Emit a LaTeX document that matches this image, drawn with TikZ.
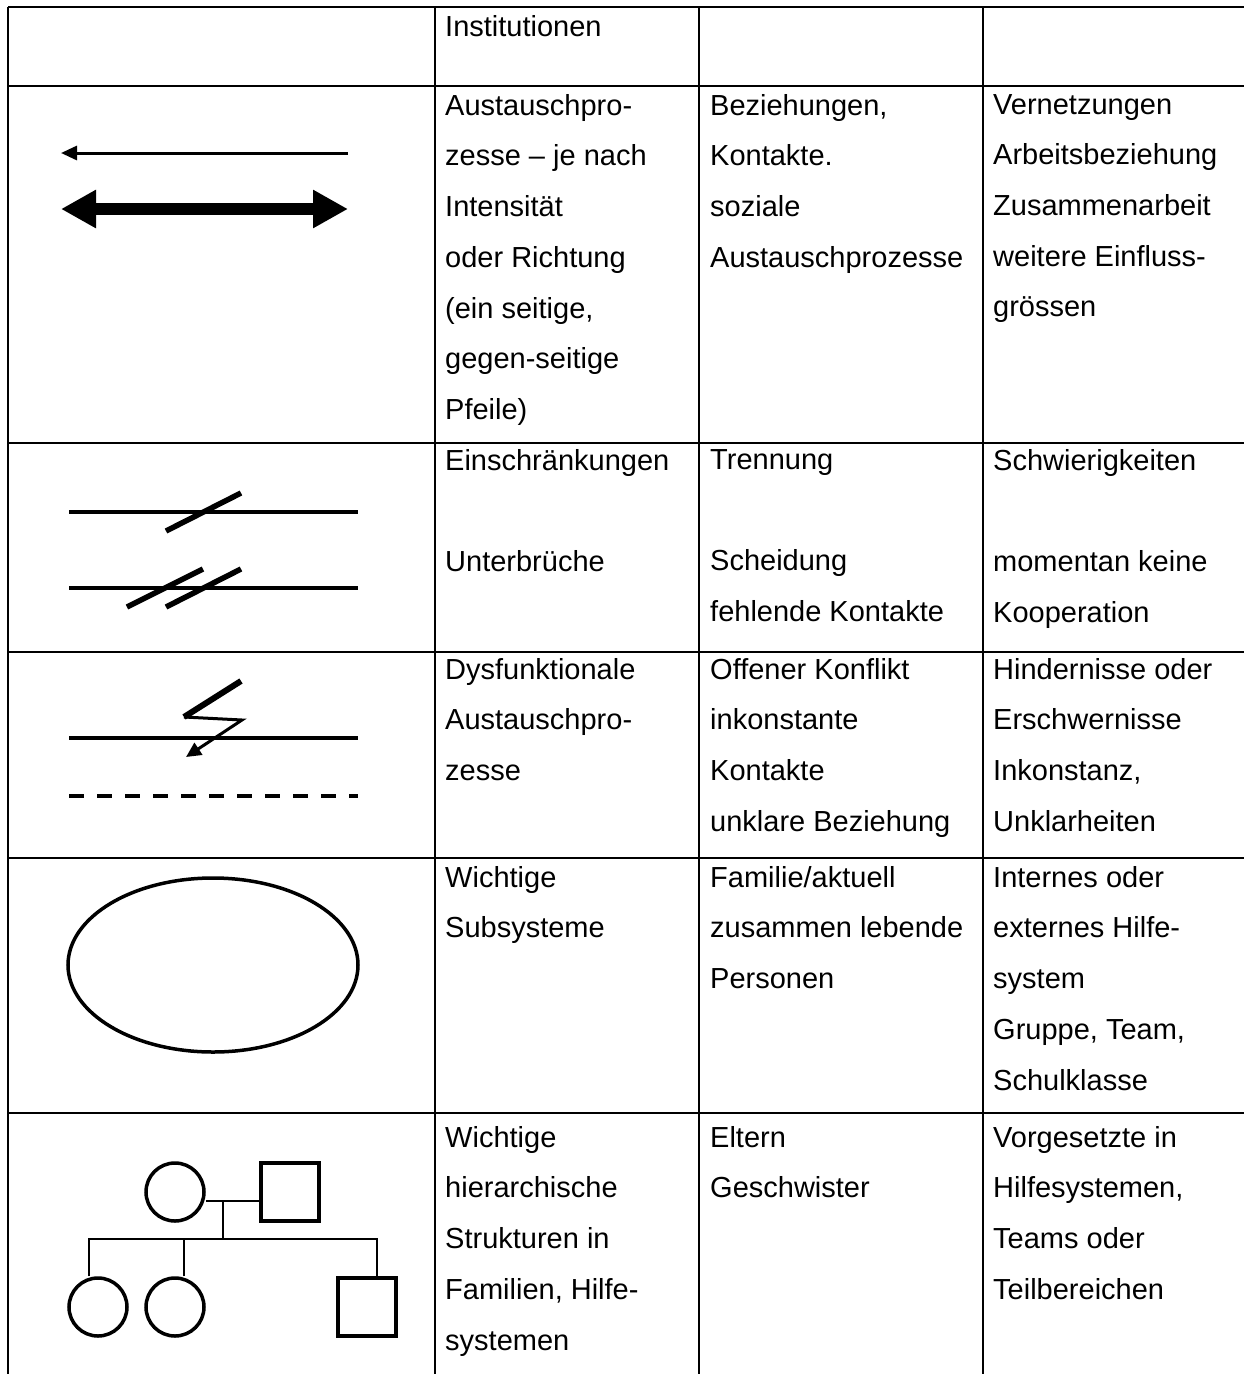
\documentclass[tikz,border=0pt]{standalone}
\usepackage{fontspec}
\setmainfont{Liberation Sans}
\usetikzlibrary{arrows.meta}
\usetikzlibrary{shapes.geometric}
\tikzset{grid/.style = {line width = 2.6pt}}
\tikzset{cell/.style = {anchor = north west, align = left, inner sep = 0, yshift = 21pt,
                        font = \fontsize{29}{50.7}\selectfont}}
\tikzset{bar/.style = {line width = 4.5pt}}
\tikzset{slash/.style = {line width = 5.5pt}}
\tikzset{circ/.style = {draw, circle, line width = 3.5pt, inner sep = 0, minimum size = 58pt}}
\tikzset{sq/.style = {draw, rectangle, line width = 4.5pt, inner sep = 0, minimum size = 58pt}}
\tikzset{tie/.style = {line width = 2.5pt}}

\begin{document}
\begin{tikzpicture}[x = 1pt, y = -1pt]
      \useasboundingbox (0, 0) rectangle (1244, 1374);

      \foreach \y in {7, 86, 443, 652, 858, 1113}
        \draw [grid] (8, \y) -- (1244, \y);
      \foreach \x in {8, 435, 699, 983}
        \draw [grid] (\x, 7) -- (\x, 1374);

      \node [cell] (inst) at (445, 36) {Institutionen};

      \draw [line width = 3pt, -{Triangle[length = 16pt, width = 14pt]}] (348, 153) -- (61, 153);
      \draw [line width = 12pt, {Triangle[length = 35pt, width = 36pt]}-{Triangle[length = 35pt, width = 36pt]}] (61, 209) -- (348, 209);
      \node [cell] (austausch) at (445, 115) {Austauschpro-\\zesse – je nach\\Intensität\\oder Richtung\\(ein seitige,\\gegen-seitige\\Pfeile)};
      \node [cell] (bezieh) at (710, 115) {Beziehungen,\\Kontakte.\\soziale\\Austauschprozesse};
      \node [cell] (vernetz) at (993, 115) {Vernetzungen\\Arbeitsbeziehung\\Zusammenarbeit\\weitere Einfluss-\\grössen};

      \draw [bar] (69, 512) -- (358, 512);
      \draw [slash] (166, 531) -- (241, 493);
      \draw [bar] (69, 588) -- (358, 588);
      \draw [slash] (127, 607) -- (203, 569);
      \draw [slash] (166, 607) -- (241, 569);
      \node [cell] (einschr) at (445, 470) {Einschränkungen\\[50.7pt]Unterbrüche};
      \node [cell] (trennung) at (710, 470) {Trennung\\[50.7pt]Scheidung\\fehlende Kontakte};
      \node [cell] (schwierig) at (993, 470) {Schwierigkeiten\\[50.7pt]momentan keine\\Kooperation};

      \draw [bar] (69, 738) -- (358, 738);
      \draw [line width = 6pt] (241, 681) -- (184, 717); %zigzag
      \draw [line width = 3pt, -{Triangle[length = 15pt, width = 14pt]}] (184, 717) -- (242, 720) -- (186, 757);
      \draw [bar, dash pattern = on 15pt off 13pt] (69, 796) -- (358, 796);
      \node [cell] (dysfunk) at (445, 679) {Dysfunktionale\\Austauschpro-\\zesse};
      \node [cell] (konflikt) at (710, 679) {Offener Konflikt\\inkonstante\\Kontakte\\unklare Beziehung};
      \node [cell] (hindernis) at (993, 679) {Hindernisse oder\\Erschwernisse\\Inkonstanz,\\Unklarheiten};

      \node [draw, ellipse, line width = 3.5pt, inner sep = 0, minimum width = 290pt, minimum height = 174pt] (subsys) at (213, 965) {};
      \node [cell] (wichtig) at (445, 887) {Wichtige\\Subsysteme};
      \node [cell] (familie) at (710, 887) {Familie/aktuell\\zusammen lebende\\Personen};
      \node [cell] (hilfe) at (993, 887) {Internes oder\\externes Hilfe-\\system\\Gruppe, Team,\\Schulklasse};

      \node [circ] (mother) at (175, 1192) {};
      \node [sq] (father) at (290, 1192) {};
      \node [circ] (daughter1) at (98, 1307) {};
      \node [circ] (daughter2) at (175, 1307) {};
      \node [sq] (son) at (367, 1307) {};
      \coordinate (couple) at (223, 1201);
      \coordinate (kids) at (223, 1239);
      \draw [tie] ([yshift = -9pt]mother.east) -- ([yshift = -9pt]father.west);
      \draw [tie] (couple) -- (kids);
      \draw [tie] ([xshift = -9pt]daughter1.north) |- (kids) -| ([xshift = 10pt]son.north);
      \draw [tie] ([xshift = 9pt]daughter2.north) -- ([xshift = 9pt]daughter2.north |- kids);
      \node [cell] (hierarch) at (445, 1147) {Wichtige\\hierarchische\\Strukturen in\\Familien, Hilfe-\\systemen};
      \node [cell] (eltern) at (710, 1147) {Eltern\\Geschwister};
      \node [cell] (vorgesetzt) at (993, 1147) {Vorgesetzte in\\Hilfesystemen,\\Teams oder\\Teilbereichen};

    \end{tikzpicture}
\end{document}
